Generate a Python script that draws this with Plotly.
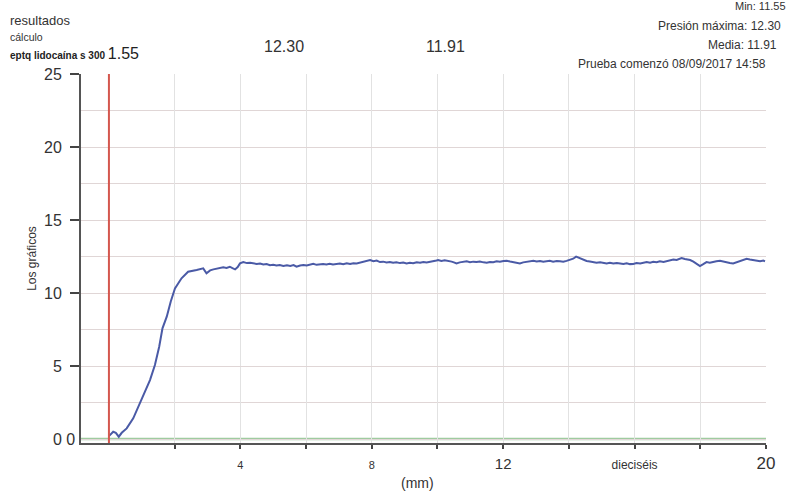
import plotly.graph_objects as go

# ---------------- data ----------------
distance_mm = [
    0.00, 0.03, 0.13, 0.21, 0.30, 0.39, 0.54, 0.74, 0.89, 1.04, 1.25, 1.40, 1.53, 1.63,
    1.76, 1.88, 2.01, 2.21, 2.41, 2.67, 2.87, 2.97, 3.08, 3.18, 3.33, 3.48, 3.58,
    3.68, 3.76, 3.84, 3.92, 3.99, 4.09, 4.20, 4.30, 4.40, 4.50, 4.60, 4.70, 4.80, 4.90,
    5.00, 5.10, 5.20, 5.31, 5.42, 5.52, 5.62, 5.71, 5.82, 5.92, 6.02, 6.12, 6.22, 6.32,
    6.42, 6.52, 6.62, 6.72, 6.82, 6.93, 7.03, 7.13, 7.24, 7.34, 7.44, 7.54, 7.64, 7.74,
    7.85, 7.95, 8.05, 8.15, 8.25, 8.35, 8.45, 8.55, 8.65, 8.75, 8.86, 8.96, 9.06, 9.16,
    9.26, 9.37, 9.47, 9.57, 9.67, 9.77, 9.87, 9.97, 10.02, 10.12, 10.22, 10.33, 10.43,
    10.50, 10.58, 10.68, 10.78, 10.89, 10.99, 11.09, 11.19, 11.29, 11.40, 11.50, 11.60,
    11.70, 11.80, 11.90, 12.01, 12.11, 12.21, 12.31, 12.41, 12.51, 12.61, 12.71, 12.82,
    12.92, 13.02, 13.12, 13.22, 13.32, 13.42, 13.52, 13.63, 13.73, 13.83, 13.93, 14.03,
    14.13, 14.22, 14.33, 14.44, 14.54, 14.64, 14.74, 14.84, 14.95, 15.05, 15.15, 15.25,
    15.35, 15.46, 15.56, 15.66, 15.76, 15.86, 15.96, 16.06, 16.17, 16.27, 16.37, 16.47,
    16.57, 16.67, 16.77, 16.88, 16.98, 17.08, 17.18, 17.28, 17.38, 17.43, 17.53, 17.63,
    17.69, 17.79, 17.89, 17.99, 18.09, 18.19, 18.29, 18.39, 18.49, 18.60, 18.70, 18.80,
    18.90, 19.00, 19.10, 19.20, 19.31, 19.41, 19.51, 19.61, 19.72, 19.82, 19.92, 19.97,
]
pressure = [
    0.20, 0.27, 0.50, 0.43, 0.16, 0.43, 0.73, 1.42, 2.21, 2.90, 4.04, 5.07, 6.32, 7.58,
    8.38, 9.40, 10.32, 11.01, 11.46, 11.58, 11.69, 11.35, 11.55, 11.62, 11.70, 11.76, 11.72,
    11.80, 11.70, 11.62, 11.78, 12.03, 12.12, 12.05, 12.08, 12.01, 11.99, 12.02, 11.95, 11.98, 11.90,
    11.94, 11.88, 11.92, 11.85, 11.90, 11.86, 11.91, 11.80, 11.89, 11.92, 11.88, 11.94, 12.00, 11.93,
    11.98, 11.99, 11.95, 12.01, 11.96, 11.99, 12.02, 11.97, 12.03, 11.99, 12.04, 12.02, 12.08, 12.12,
    12.20, 12.26, 12.18, 12.22, 12.12, 12.15, 12.10, 12.13, 12.08, 12.11, 12.05, 12.09, 12.03, 12.07,
    12.04, 12.10, 12.08, 12.13, 12.09, 12.12, 12.18, 12.23, 12.26, 12.20, 12.24, 12.21, 12.15,
    12.10, 12.03, 12.10, 12.14, 12.17, 12.11, 12.15, 12.12, 12.16, 12.10, 12.08, 12.13,
    12.11, 12.17, 12.14, 12.20, 12.21, 12.16, 12.12, 12.08, 12.03, 12.10, 12.15, 12.18,
    12.21, 12.16, 12.20, 12.14, 12.17, 12.21, 12.15, 12.19, 12.17, 12.14, 12.20, 12.26,
    12.35, 12.49, 12.38, 12.26, 12.20, 12.16, 12.12, 12.08, 12.11, 12.05, 12.03, 12.07,
    12.02, 12.06, 12.03, 11.99, 12.04, 11.98, 11.99, 12.05, 12.02, 12.09, 12.12, 12.08,
    12.14, 12.11, 12.17, 12.13, 12.20, 12.26, 12.30, 12.27, 12.35, 12.40, 12.33, 12.28,
    12.26, 12.15, 12.02, 11.85, 11.98, 12.12, 12.08, 12.14, 12.18, 12.21, 12.15, 12.10,
    12.06, 12.03, 12.10, 12.18, 12.27, 12.35, 12.30, 12.25, 12.21, 12.17, 12.22, 12.17,
]

x_tick_vals = [2, 4, 6, 8, 10, 12, 14, 16, 18, 20]
x_tick_text = ["", "4", "", "8", "", "12", "", "dieciséis", "", "20"]
y_tick_vals = [5, 10, 15, 20, 25]
y_tick_text = ["5", "10", "15", "20", "25"]
y_zero_label = "0 0"

marker_x = 0          # red start line
baseline_y = 0        # green baseline

header_left = ["resultados", "cálculo", "eptq lidocaína s 300", "1.55"]
header_mid = ["12.30", "11.91"]
header_right = ["Min: 11.55", "Presión máxima: 12.30", "Media: 11.91",
                "Prueba comenzó 08/09/2017 14:58"]
x_title = "(mm)"
y_title = "Los gráficos"

# ---------------- layout helpers ----------------
W, H = 790, 495
L, R, T, B = 81, 24, 74, 52
PW, PH = W - L - R, H - T - B


def px(xp):
    return (xp - L) / PW


def py(yp):
    return (H - B - yp) / PH


FONT = "Liberation Sans, Arial, sans-serif"
TXT = "#333333"


def span(t, size):
    return f'<span style="font-size:{size}px">{t}</span>'


x_sizes = {"4": 11, "8": 11, "12": 15, "dieciséis": 12, "20": 17}
x_tick_html = [span(t, x_sizes[t]) if t else "" for t in x_tick_text]

fig = go.Figure()
fig.add_trace(go.Scatter(
    x=distance_mm, y=pressure, mode="lines",
    line=dict(color="#4a5aa6", width=2),
    hoverinfo="x+y", showlegend=False,
))

fig.add_shape(type="line", xref="x", yref="paper", x0=marker_x, x1=marker_x, y0=0, y1=1,
              line=dict(color="#d4574e", width=2), layer="above")
fig.add_shape(type="line", xref="paper", yref="y", x0=0, x1=1, y0=baseline_y, y1=baseline_y,
              line=dict(color="#9fcb9f", width=2.5), layer="below")

ann = []
# left header
ann.append(dict(x=px(8), y=py(20), text=header_left[0], font=dict(size=13, color=TXT),
                xanchor="left", yanchor="middle"))
ann.append(dict(x=px(8), y=py(37), text=header_left[1], font=dict(size=10.5, color=TXT),
                xanchor="left", yanchor="middle"))
ann.append(dict(x=px(8), y=py(54),
                text=f"<b>{header_left[2]}</b> " + span(header_left[3], 16),
                font=dict(size=10, color="#222222"), xanchor="left", yanchor="middle"))
# middle header
ann.append(dict(x=px(284), y=py(46), text=header_mid[0], font=dict(size=16, color=TXT),
                xanchor="center", yanchor="middle"))
ann.append(dict(x=px(445), y=py(46), text=header_mid[1], font=dict(size=16, color=TXT),
                xanchor="center", yanchor="middle"))
# right header
ann.append(dict(x=px(788), y=py(6), text=header_right[0], font=dict(size=11, color=TXT),
                xanchor="right", yanchor="middle"))
ann.append(dict(x=px(783), y=py(26), text=header_right[1], font=dict(size=12, color=TXT),
                xanchor="right", yanchor="middle"))
ann.append(dict(x=px(779), y=py(45), text=header_right[2], font=dict(size=12, color=TXT),
                xanchor="right", yanchor="middle"))
ann.append(dict(x=px(768), y=py(64), text=header_right[3], font=dict(size=12, color=TXT),
                xanchor="right", yanchor="middle"))
# double zero label at y = 0
ann.append(dict(x=px(77), y=baseline_y, yref="y", text=y_zero_label,
                font=dict(size=16, color=TXT), xanchor="right", yanchor="middle"))
# x title
ann.append(dict(x=px(417), y=py(483), text=x_title, font=dict(size=14, color=TXT),
                xanchor="center", yanchor="middle"))

for a in ann:
    a.setdefault("xref", "paper")
    a.setdefault("yref", "paper")
    a["showarrow"] = False

fig.update_layout(
    width=W, height=H,
    margin=dict(l=L, r=R, t=T, b=B, pad=0),
    paper_bgcolor="white", plot_bgcolor="white",
    font=dict(family=FONT, color=TXT),
    annotations=ann,
    showlegend=False,
)

fig.update_xaxes(
    range=[-0.85, 20.0],
    tickvals=x_tick_vals, ticktext=x_tick_html,
    showgrid=True, gridcolor="#e2e2e2", gridwidth=1,
    showline=True, linecolor="#555555", linewidth=2,
    ticks="outside", ticklen=4, tickwidth=2, tickcolor="#444444",
    ticklabelstandoff=6,
    zeroline=False,
)
fig.update_yaxes(
    range=[-0.27, 25],
    tickvals=y_tick_vals, ticktext=y_tick_text,
    tickfont=dict(size=16, color=TXT),
    showgrid=True, gridcolor="#e0d6d6", gridwidth=1,
    minor=dict(dtick=2.5, tick0=0, showgrid=True, gridcolor="#e0d6d6", ticks=""),
    showline=True, linecolor="#555555", linewidth=2,
    ticks="outside", ticklen=9, tickwidth=2, tickcolor="#444444",
    ticklabelstandoff=5,
    zeroline=False,
    title=dict(text=y_title, font=dict(size=12, color=TXT), standoff=5),
)

fig.write_html(
    "out.html",
    config={"displayModeBar": False},
    post_script="document.body.style.margin='0';document.body.style.padding='0';",
)
